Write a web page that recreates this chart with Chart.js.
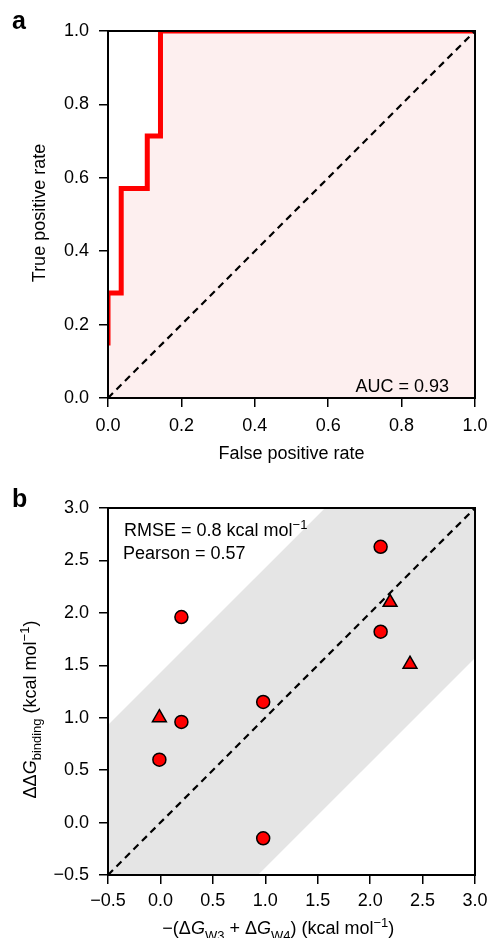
<!DOCTYPE html>
<html>
<head>
<meta charset="utf-8">
<script src="https://cdn.jsdelivr.net/npm/chart.js@4/dist/chart.umd.min.js"></script>
<style>
  html, body { margin: 0; padding: 0; background: #fff; }
  canvas { display: block; }
</style>
</head>
<body>
<canvas id="roc" width="489" height="480"></canvas>
<canvas id="scatter" width="489" height="458"></canvas>
<script>
// panel a: ROC curve
const rocFpr = [0, 0, 0.036, 0.036, 0.107, 0.107, 0.143, 0.143, 1.0];
const rocTpr = [0.143, 0.286, 0.286, 0.571, 0.571, 0.714, 0.714, 1.0, 1.0];
const chanceLine = [0, 1];
const rocTicks = [0, 0.2, 0.4, 0.6, 0.8, 1.0];

// panel b: predicted vs measured
const circleX = [2.1, 0.2, 2.1, 0.98, 0.2, -0.01, 0.98];
const circleY = [2.63, 1.96, 1.82, 1.15, 0.96, 0.6, -0.15];
const triangleX = [2.19, 2.38, -0.01];
const triangleY = [2.1, 1.51, 1.0];
const identityLine = [-0.5, 3.0];
const bandX = [-0.5, 3.0];
const bandUpper = [0.93, 4.43];
const bandLower = [-1.93, 1.57];
const scatterTicks = [-0.5, 0, 0.5, 1.0, 1.5, 2.0, 2.5, 3.0];

const FONT = "'Liberation Sans', Arial, Helvetica, sans-serif";
Chart.defaults.font.family = FONT;
Chart.defaults.font.size = 18;
Chart.defaults.color = '#000';
Chart.defaults.animation = false;

const pts = (xs, ys) => xs.map((x, i) => ({ x, y: ys[i] }));
const minus = v => (v < 0 ? '\u2212' : '') + Math.abs(v).toFixed(1);

// draws text with italic / sub / superscript pieces
function drawRich(ctx, parts, x, y, size, align) {
    const small = Math.round(size * 0.7);
    const fontFor = s => (s === 'i' ? 'italic ' : '') + (s === 'sub' || s === 'sup' ? small : size) + 'px ' + FONT;
    let w = 0;
    parts.forEach(([t, s]) => { ctx.font = fontFor(s); w += ctx.measureText(t).width; });
    let cx = align === 'center' ? x - w / 2 : align === 'right' ? x - w : x;
    ctx.textAlign = 'left';
    ctx.textBaseline = 'alphabetic';
    ctx.fillStyle = '#000';
    parts.forEach(([t, s]) => {
        ctx.font = fontFor(s);
        const dy = s === 'sub' ? size * 0.3 : s === 'sup' ? -size * 0.38 : 0;
        ctx.fillText(t, cx, y + dy);
        cx += ctx.measureText(t).width;
    });
}

function drawRotated(ctx, parts, cx, cy, size) {
    ctx.save();
    ctx.translate(cx, cy);
    ctx.rotate(-Math.PI / 2);
    drawRich(ctx, parts, 0, 0, size, 'center');
    ctx.restore();
}

const framePlugin = {
    id: 'frame',
    afterDatasetsDraw(chart) {
        const { ctx, chartArea: a } = chart;
        ctx.save();
        ctx.strokeStyle = '#000';
        ctx.lineWidth = 2;
        ctx.strokeRect(a.left, a.top, a.right - a.left, a.bottom - a.top);
        ctx.restore();
    }
};

function axis(min, max, ticks, width, height, pad) {
    return {
        type: 'linear',
        min, max,
        afterBuildTicks: s => { s.ticks = ticks.map(value => ({ value })); },
        afterFit: s => {
            if (width) s.width = width;
            if (height) s.height = height;
            s.paddingLeft = 0; s.paddingRight = 0;
            s.paddingTop = 0; s.paddingBottom = 0;
        },
        border: { display: false },
        grid: { drawOnChartArea: false, drawTicks: true, tickLength: 9, color: '#000', lineWidth: 1.5 },
        ticks: { padding: pad, callback: minus, maxRotation: 0, autoSkip: false }
    };
}

new Chart(document.getElementById('roc'), {
    type: 'scatter',
    data: {
        datasets: [
            {
                data: pts(rocFpr, rocTpr),
                showLine: true,
                borderColor: '#ff0000',
                borderWidth: 5,
                pointRadius: 0,
                fill: 'origin',
                backgroundColor: '#fdefef',
                clip: 0,
                order: 2
            },
            {
                data: pts(chanceLine, chanceLine),
                showLine: true,
                borderColor: '#000',
                borderWidth: 2.2,
                borderDash: [7, 5],
                pointRadius: 0,
                clip: 0,
                order: 1
            }
        ]
    },
    options: {
        responsive: false,
        layout: { padding: { top: 31, right: 14, left: 0, bottom: 0 } },
        plugins: { legend: { display: false }, tooltip: { enabled: false } },
        scales: {
            x: axis(0, 1, rocTicks, 0, 82, 8),
            y: axis(0, 1, rocTicks, 108, 0, 10)
        }
    },
    plugins: [framePlugin, {
        id: 'textA',
        afterDraw(chart) {
            const ctx = chart.ctx;
            ctx.save();
            ctx.font = 'bold 25px ' + FONT;
            ctx.fillStyle = '#000';
            ctx.fillText('a', 12, 29);
            drawRotated(ctx, [['True positive rate', '']], 44.6, 213, 18);
            drawRich(ctx, [['False positive rate', '']], 291.5, 459, 18, 'center');
            drawRich(ctx, [['AUC = 0.93', '']], 449, 391.5, 18, 'right');
            ctx.restore();
        }
    }]
});

new Chart(document.getElementById('scatter'), {
    type: 'scatter',
    data: {
        datasets: [
            {
                type: 'line',
                data: pts(bandX, bandUpper),
                borderWidth: 0,
                pointRadius: 0,
                fill: '+1',
                backgroundColor: '#e5e5e5',
                order: 5
            },
            {
                type: 'line',
                data: pts(bandX, bandLower),
                borderWidth: 0,
                pointRadius: 0,
                fill: false,
                order: 4
            },
            {
                type: 'line',
                data: pts(identityLine, identityLine),
                borderColor: '#000',
                borderWidth: 2.2,
                borderDash: [7, 5],
                pointRadius: 0,
                clip: 0,
                order: 3
            },
            {
                data: pts(circleX, circleY),
                pointStyle: 'circle',
                pointRadius: 6.5,
                backgroundColor: '#ff0000',
                borderColor: '#000',
                borderWidth: 1.5,
                order: 2
            },
            {
                data: pts(triangleX, triangleY),
                pointStyle: 'triangle',
                pointRadius: 8,
                backgroundColor: '#ff0000',
                borderColor: '#000',
                borderWidth: 1.5,
                order: 1
            }
        ]
    },
    options: {
        responsive: false,
        layout: { padding: { top: 28, right: 14, left: 0, bottom: 0 } },
        plugins: { legend: { display: false }, tooltip: { enabled: false } },
        scales: {
            x: axis(-0.5, 3, scatterTicks, 0, 63, 6.5),
            y: axis(-0.5, 3, scatterTicks, 108, 0, 10)
        }
    },
    plugins: [framePlugin, {
        id: 'textB',
        afterDraw(chart) {
            const ctx = chart.ctx;
            ctx.save();
            ctx.font = 'bold 25px ' + FONT;
            ctx.fillStyle = '#000';
            ctx.fillText('b', 12, 26.5);
            drawRich(ctx, [['RMSE = 0.8 kcal mol', ''], ['\u22121', 'sup']], 124, 56, 18, 'left');
            drawRich(ctx, [['Pearson = 0.57', '']], 123, 79, 18, 'left');
            drawRotated(ctx, [['\u0394\u0394', ''], ['G', 'i'], ['binding', 'sub'], [' (kcal mol', ''], ['\u22121', 'sup'], [')', '']], 36, 229.5, 18);
            drawRich(ctx, [['\u2212(\u0394', ''], ['G', 'i'], ['W3', 'sub'], [' + \u0394', ''], ['G', 'i'], ['W4', 'sub'],
                [') (kcal mol', ''], ['\u22121', 'sup'], [')', '']], 278.3, 454.3, 18, 'center');
            ctx.restore();
        }
    }]
});
</script>
</body>
</html>
